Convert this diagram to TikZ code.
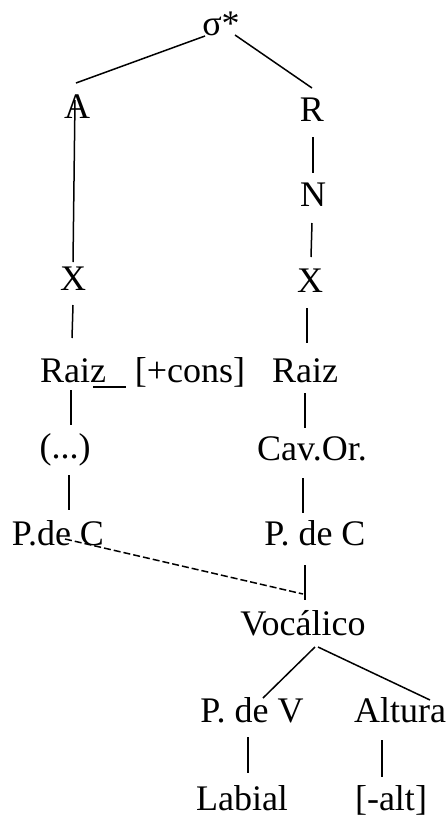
\documentclass[tikz,border=0pt]{standalone}
\usepackage{fontspec}
\setmainfont{Liberation Serif}
\usetikzlibrary{calc}
\begin{document}
\begin{tikzpicture}[x=1pt,y=-1pt,
  lbl/.style={anchor=base,inner sep=0pt,outer sep=0pt,font=\fontsize{36}{40}\selectfont},
  link/.style={line width=1.5pt},
  dlink/.style={line width=1.5pt,dash pattern=on 7pt off 3pt}]
\useasboundingbox (0,0) rectangle (447,817);
\node[lbl] (sig) at (221,35) {σ*};
\node[lbl] (A) at (77,118) {A};
\node[lbl] (R) at (312,121) {R};
\node[lbl] (N) at (313,206) {N};
\node[lbl] (xl) at (73,290) {X};
\node[lbl] (xr) at (310,292) {X};
\node[lbl] (raizl) at (73,382) {Raiz};
\node[lbl] (cons) at (190,382) {[+cons]};
\node[lbl] (raizr) at (305,382) {Raiz};
\node[lbl] (dots) at (65,458) {(...)};
\node[lbl] (cav) at (312,460) {Cav.Or.};
\node[lbl] (pcl) at (58,545) {P.de C};
\node[lbl] (pcr) at (315,545) {P. de C};
\node[lbl] (voc) at (303,635) {Vocálico};
\node[lbl] (pv) at (252,722) {P. de V};
\node[lbl] (alt) at (400,722) {Altura};
\node[lbl] (lab) at (242,810) {Labial};
\node[lbl] (nalt) at (391,810) {[-alt]};
% connectors
\draw[link] ([shift={(-16,1)}]sig.base) -- ([shift={(-1,-35)}]A.base);
\draw[link] ([shift={(14,0)}]sig.base) -- ([shift={(0,-33)}]R.base);
\draw[link] ([shift={(-2,-18)}]A.base) -- ([shift={(0,-28)}]xl.base);
\draw[link] ([shift={(1,16)}]R.base) -- ([shift={(0,-33)}]N.base);
\draw[link] ([shift={(-1,17)}]N.base) -- ([shift={(1,-35)}]xr.base);
\draw[link] ([shift={(0,15)}]xl.base) -- ([shift={(-1,-44)}]raizl.base);
\draw[link] ([shift={(-3,16)}]xr.base) -- ([shift={(2,-39)}]raizr.base);
\draw[link] ([shift={(20,5)}]raizl.base) -- ([shift={(-64,5)}]cons.base);
\draw[link] ([shift={(-2,8)}]raizl.base) -- ([shift={(6,-33)}]dots.base);
\draw[link] ([shift={(0,11)}]raizr.base) -- ([shift={(-7,-32)}]cav.base);
\draw[link] ([shift={(4,17)}]dots.base) -- ([shift={(11,-35)}]pcl.base);
\draw[link] ([shift={(-9,18)}]cav.base) -- ([shift={(-12,-32)}]pcr.base);
\draw[link] ([shift={(-10,20)}]pcr.base) -- ([shift={(2,-35)}]voc.base);
\draw[dlink] ([shift={(7,-6)}]pcl.base) -- ([shift={(-12,49)}]pcr.base);
\draw[link] ([shift={(12,12)}]voc.base) -- ([shift={(11,-24)}]pv.base);
\draw[link] ([shift={(15,12)}]voc.base) -- ([shift={(30,-22)}]alt.base);
\draw[link] ([shift={(-4,15)}]pv.base) -- ([shift={(6,-37)}]lab.base);
\draw[link] ([shift={(-18,18)}]alt.base) -- ([shift={(-9,-33)}]nalt.base);
\end{tikzpicture}
\end{document}
